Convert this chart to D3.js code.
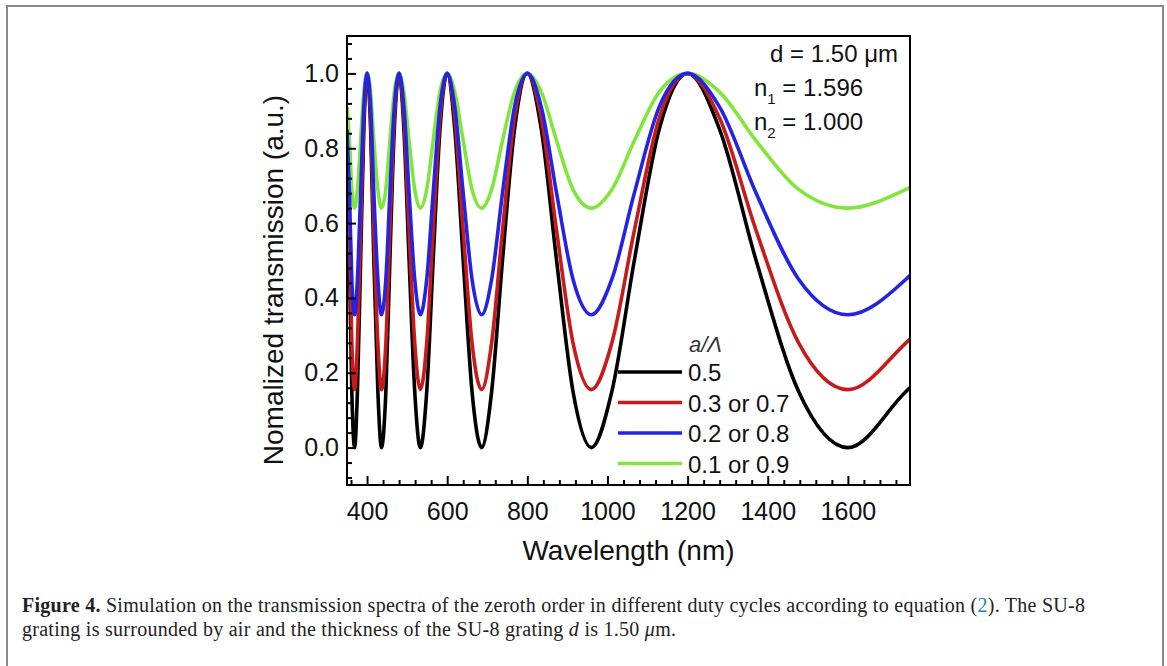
<!DOCTYPE html>
<html>
<head>
<meta charset="utf-8">
<script src="https://cdn.jsdelivr.net/npm/d3@7"></script>
<style>
  html, body { margin: 0; padding: 0; background: #fff; }
  svg { display: block; }
  .sans { font-family: Arial, "Liberation Sans", Helvetica, sans-serif; }
  .serif { font-family: "Liberation Serif", "Times New Roman", serif; }
</style>
</head>
<body>
<svg id="chart" width="1167" height="666"></svg>
<script>
// ---- data ----
const wavelengths = [350,356,362,369,376,384,392,400,409,417,427,436,447,457,468,480,
  492,505,519,533,549,565,582,600,619,640,662,686,711,738,768,800,
  835,873,914,960,1011,1067,1129,1200,1280,1371,1477,1600,1745,1755];
const seriesNames = ["0.5", "0.3 or 0.7", "0.2 or 0.8", "0.1 or 0.9"];
const t05 = [0.80,0.50,0.15,0.00,0.15,0.50,0.85,1.00, 0.85,0.50,0.15,0.00,0.15,0.50,0.85,1.00,
  0.85,0.50,0.15,0.00,0.15,0.50,0.85,1.00, 0.85,0.50,0.15,0.00,0.15,0.50,0.85,1.00,
  0.85,0.50,0.15,0.00,0.15,0.50,0.85,1.00, 0.85,0.50,0.15,0.00,0.15,0.16];
const t03 = [0.82,0.58,0.28,0.155,0.28,0.58,0.88,1.00, 0.88,0.58,0.28,0.155,0.28,0.58,0.88,1.00,
  0.88,0.58,0.28,0.155,0.28,0.58,0.88,1.00, 0.88,0.58,0.28,0.155,0.28,0.58,0.88,1.00,
  0.88,0.58,0.28,0.155,0.28,0.58,0.88,1.00, 0.88,0.58,0.28,0.155,0.28,0.29];
const t02 = [0.85,0.68,0.45,0.355,0.45,0.68,0.91,1.00, 0.91,0.68,0.45,0.355,0.45,0.68,0.91,1.00,
  0.91,0.68,0.45,0.355,0.45,0.68,0.91,1.00, 0.91,0.68,0.45,0.355,0.45,0.68,0.91,1.00,
  0.91,0.68,0.45,0.355,0.45,0.68,0.91,1.00, 0.91,0.68,0.45,0.355,0.45,0.46];
const t01 = [0.91,0.82,0.69,0.64,0.69,0.82,0.95,1.00, 0.95,0.82,0.69,0.64,0.69,0.82,0.95,1.00,
  0.95,0.82,0.69,0.64,0.69,0.82,0.95,1.00, 0.95,0.82,0.69,0.64,0.69,0.82,0.95,1.00,
  0.95,0.82,0.69,0.64,0.69,0.82,0.95,1.00, 0.95,0.82,0.69,0.64,0.69,0.695];
const xTicks = [400, 600, 800, 1000, 1200, 1400, 1600];
const yTicks = [0.0, 0.2, 0.4, 0.6, 0.8, 1.0];
const xDomain = [350, 1755];
const yDomain = [-0.1, 1.1];

// ---- layout ----
const svg = d3.select("#chart");
const L = 347, R = 910, T = 36, B = 485;
const x = d3.scaleLinear().domain(xDomain).range([L, R]);
const y = d3.scaleLinear().domain(yDomain).range([B, T]);

// figure frame
svg.append("rect").attr("x", 7).attr("y", 6).attr("width", 1156).attr("height", 700)
  .attr("fill", "none").attr("stroke", "#8a8a8a").attr("stroke-width", 2);

svg.append("defs").append("clipPath").attr("id", "plotclip")
  .append("rect").attr("x", L).attr("y", T).attr("width", R - L).attr("height", B - T);

// curves
const colors = ["#000000", "#c81a1a", "#2323e6", "#80e63a"];
const data = [t05, t03, t02, t01];
const line = d3.line().x(d => x(d[0])).y(d => y(d[1])).curve(d3.curveMonotoneX);
const drawOrder = [0, 1, 3, 2];
const gLines = svg.append("g").attr("clip-path", "url(#plotclip)");
drawOrder.forEach(i => {
  gLines.append("path")
    .datum(wavelengths.map((w, j) => [w, data[i][j]]))
    .attr("d", line).attr("fill", "none")
    .attr("stroke", colors[i]).attr("stroke-width", 3.6).attr("stroke-linejoin", "round");
});

// axes
const minorX = d3.range(360, 1755, 40).filter(v => !xTicks.includes(v));
const minorY = d3.range(-0.08, 1.09, 0.04).map(v => +v.toFixed(2)).filter(v => !yTicks.some(t => Math.abs(t - v) < 1e-6));

function styleAxis(g) {
  g.select(".domain").remove();
  g.selectAll(".tick line").attr("stroke", "#000").attr("stroke-width", 2);
}
svg.append("g").attr("transform", `translate(0,${B})`)
  .call(d3.axisBottom(x).tickValues(minorX).tickSize(-5).tickFormat(""))
  .call(styleAxis);
svg.append("g").attr("transform", `translate(${L},0)`)
  .call(d3.axisLeft(y).tickValues(minorY).tickSize(-5).tickFormat(""))
  .call(styleAxis);
const gx = svg.append("g").attr("transform", `translate(0,${B})`)
  .call(d3.axisBottom(x).tickValues(xTicks).tickSize(-9).tickPadding(16).tickFormat(d3.format("d")))
  .call(styleAxis);
gx.selectAll(".tick text").attr("class", "sans").attr("font-size", 25).attr("fill", "#111")
  .attr("dy", "0.71em").attr("y", 17);
const gy = svg.append("g").attr("transform", `translate(${L},0)`)
  .call(d3.axisLeft(y).tickValues(yTicks).tickSize(-9).tickPadding(8).tickFormat(d3.format(".1f")))
  .call(styleAxis);
gy.selectAll(".tick text").attr("class", "sans").attr("font-size", 25).attr("fill", "#111");

// plot frame
svg.append("rect").attr("x", L).attr("y", T).attr("width", R - L).attr("height", B - T)
  .attr("fill", "none").attr("stroke", "#000").attr("stroke-width", 2);

// axis titles
svg.append("text").attr("class", "sans").attr("x", (L + R) / 2).attr("y", 560)
  .attr("text-anchor", "middle").attr("font-size", 28).attr("fill", "#111")
  .text("Wavelength (nm)");
svg.append("text").attr("class", "sans")
  .attr("transform", "translate(283,280) rotate(-90)")
  .attr("text-anchor", "middle").attr("font-size", 28).attr("fill", "#111")
  .text("Nomalized transmission (a.u.)");

// annotation
const ann = svg.append("g").attr("class", "sans").attr("fill", "#111").attr("font-size", 24);
ann.append("text").attr("x", 898).attr("y", 62).attr("text-anchor", "end").text("d = 1.50 μm");
const n1 = ann.append("text").attr("x", 754).attr("y", 96);
n1.append("tspan").text("n");
n1.append("tspan").attr("font-size", 15).attr("dy", 8).text("1");
n1.append("tspan").attr("dy", -8).text(" = 1.596");
const n2 = ann.append("text").attr("x", 754).attr("y", 130);
n2.append("tspan").text("n");
n2.append("tspan").attr("font-size", 15).attr("dy", 8).text("2");
n2.append("tspan").attr("dy", -8).text(" = 1.000");

// legend
const leg = svg.append("g").attr("class", "sans");
leg.append("text").attr("x", 689).attr("y", 352).attr("font-size", 22)
  .attr("font-style", "italic").attr("fill", "#333").text("a/Λ");
seriesNames.forEach((name, i) => {
  const yy = 372 + i * 30.5;
  leg.append("line").attr("x1", 618).attr("x2", 682).attr("y1", yy).attr("y2", yy)
    .attr("stroke", colors[i]).attr("stroke-width", 3.6);
  leg.append("text").attr("x", 688).attr("y", yy + 9).attr("font-size", 24)
    .attr("fill", "#111").text(name);
});

// caption
const cap1 = svg.append("text").attr("class", "serif").attr("x", 22).attr("y", 612)
  .attr("font-size", 20).attr("fill", "#222")
  .attr("textLength", 1063).attr("lengthAdjust", "spacing");
cap1.append("tspan").attr("font-weight", "bold").text("Figure 4.");
cap1.append("tspan").text(" Simulation on the transmission spectra of the zeroth order in different duty cycles according to equation (");
cap1.append("tspan").attr("fill", "#2b7bbf").text("2");
cap1.append("tspan").text("). The SU-8");
const cap2 = svg.append("text").attr("class", "serif").attr("x", 22).attr("y", 636)
  .attr("font-size", 20).attr("fill", "#222")
  .attr("textLength", 654).attr("lengthAdjust", "spacing");
cap2.append("tspan").text("grating is surrounded by air and the thickness of the SU-8 grating ");
cap2.append("tspan").attr("font-style", "italic").text("d");
cap2.append("tspan").text(" is 1.50 ");
cap2.append("tspan").attr("font-style", "italic").text("μ");
cap2.append("tspan").text("m.");
</script>
</body>
</html>
